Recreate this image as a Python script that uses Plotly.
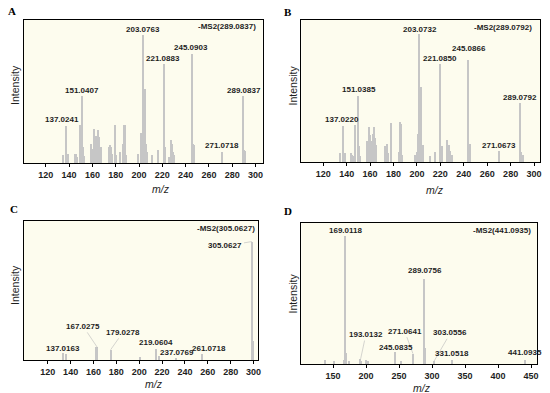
import plotly.graph_objects as go

# ---------------- data ----------------
# Panel A  -MS2(289.0837)
a_mz = [135, 137, 138, 139, 145, 146, 147, 149, 150, 151, 152, 153, 159, 160, 161, 162, 163, 164, 165,
        166, 167, 174, 175, 176, 177, 179, 180, 184, 186, 187, 188, 189, 199, 202, 203, 204, 205, 206,
        207, 211, 216, 221, 222, 226, 227, 228, 229, 230, 245, 246, 247, 271, 289, 290, 291]
a_int = [0.054, 0.257, 0.065, 0.06, 0.065, 0.06, 0.04, 0.264, 0.11, 0.467, 0.11, 0.05, 0.13, 0.1, 0.24,
         0.13, 0.19, 0.11, 0.234, 0.18, 0.11, 0.11, 0.124, 0.11, 0.065, 0.264, 0.054, 0.077, 0.135, 0.269,
         0.269, 0.054, 0.06, 0.21, 0.895, 0.16, 0.521, 0.135, 0.077, 0.054, 0.09, 0.689, 0.11, 0.04, 0.16,
         0.135, 0.077, 0.054, 0.762, 0.13, 0.124, 0.077, 0.467, 0.093, 0.084]
a_lab = ["137.0241", "151.0407", "203.0763", "221.0883", "245.0903", "289.0837", "271.0718"]
a_lab_x = [133.9, 150.7, 203.6, 220.9, 244.8, 290.0, 271.0]
a_lab_y = [0.304, 0.509, 0.935, 0.731, 0.806, 0.509, 0.119]

# Panel B  -MS2(289.0792)
b_mz = [135, 137, 138, 139, 144, 145, 147, 147.5, 150.3, 151.3, 152, 157.5, 159.5, 160.5, 161.5, 162.5,
        163.5, 164.5, 165.5, 173.5, 174.5, 175.5, 178, 185, 186, 187, 188, 198.5, 200.5, 201.2, 202,
        204.2, 205.2, 211.5, 216, 220.2, 221.4, 225.8, 227.5, 229, 230, 244.2, 245.8, 270.3, 288.2,
        289.5, 290.5]
b_int = [0.063, 0.255, 0.063, 0.06, 0.063, 0.05, 0.04, 0.258, 0.466, 0.11, 0.04, 0.145, 0.25, 0.19, 0.15,
         0.2, 0.245, 0.17, 0.12, 0.11, 0.13, 0.06, 0.274, 0.07, 0.279, 0.27, 0.05, 0.05, 0.07, 0.2, 0.9,
         0.527, 0.12, 0.04, 0.07, 0.69, 0.11, 0.157, 0.12, 0.08, 0.05, 0.72, 0.129, 0.075, 0.417, 0.07,
         0.05]
b_lab = ["137.0220", "151.0385", "203.0732", "221.0850", "245.0866", "289.0792", "271.0673"]
b_lab_x = [135.6, 150.6, 202.2, 220.1, 244.7, 287.8, 270.2]
b_lab_y = [0.302, 0.508, 0.934, 0.731, 0.801, 0.457, 0.115]

# Panel C  -MS2(305.0627)
c_mz = [133.5, 135.5, 161.8, 163.4, 175, 201, 215, 217, 232, 255, 298.5, 299.2]
c_int = [0.05, 0.043, 0.09, 0.09, 0.074, 0.02, 0.079, 0.03, 0.012, 0.045, 0.852, 0.139]
c_lab = ["137.0163", "167.0275", "179.0278", "219.0604", "237.0769", "261.0718", "305.0627"]
c_lab_x = [133.6, 151.0, 185.7, 214.6, 233.4, 260.9, 275.4]
c_lab_y = [0.086, 0.242, 0.199, 0.127, 0.055, 0.086, 0.821]
c_tip_x = [None, 163.4, 175, None, None, None, 298.5]
c_tip_y = [None, 0.09, 0.074, None, None, None, 0.852]

# Panel D  -MS2(441.0935)
d_mz = [138, 152, 167.5, 169, 170, 175, 191.8, 193, 201, 203, 245, 253, 271, 272, 289, 290, 303, 331, 441]
d_int = [0.026, 0.019, 0.03, 0.905, 0.078, 0.019, 0.036, 0.019, 0.03, 0.019, 0.083, 0.019, 0.074, 0.055,
         0.606, 0.114, 0.02, 0.03, 0.03]
d_lab = ["169.0118", "289.0756", "193.0132", "271.0641", "245.0835", "303.0556", "331.0518", "441.0935"]
d_lab_x = [169.6, 289.2, 199.7, 258.5, 245.0, 327.9, 330.4, 441.0]
d_lab_y = [0.950, 0.660, 0.209, 0.233, 0.114, 0.221, 0.078, 0.083]
d_tip_x = [None, None, 191.8, 271, None, 303, None, None]
d_tip_y = [None, None, 0.036, 0.074, None, 0.02, None, None]

titles = ["-MS2(289.0837)", "-MS2(289.0792)", "-MS2(305.0627)", "-MS2(441.0935)"]
letters = ["A", "B", "C", "D"]
ticks_abc = [120, 140, 160, 180, 200, 220, 240, 260, 280, 300]
ticks_d = [150, 200, 250, 300, 350, 400, 450]

# ---------------- layout / style ----------------
W, H = 550, 393
def px2x(p): return p / W
def px2y(p): return 1 - p / H

panels = [
    dict(mz=a_mz, it=a_int, lab=a_lab, lx=a_lab_x, ly=a_lab_y, tx=None, ty=None,
         xpx=(24, 264), ypx=(20, 163), xr=[101.2, 306.0], ticks=ticks_abc, barw=1.0,
         ttl=(302, 0.953), letter=(12, 11), ytitle=(15, 85), xtitle=(162, 189)),
    dict(mz=b_mz, it=b_int, lab=b_lab, lx=b_lab_x, ly=b_lab_y, tx=None, ty=None,
         xpx=(303, 543), ypx=(20, 162), xr=[101.3, 305.1], ticks=ticks_abc, barw=1.0,
         ttl=(300, 0.948), letter=(290, 12), ytitle=(295, 85), xtitle=(437, 190)),
    dict(mz=c_mz, it=c_int, lab=c_lab, lx=c_lab_x, ly=c_lab_y, tx=c_tip_x, ty=c_tip_y,
         xpx=(24, 259), ypx=(221, 360), xr=[99.1, 303.5], ticks=ticks_abc, barw=1.0,
         ttl=(302.9, 0.947), letter=(14, 209), ytitle=(15, 285), xtitle=(155, 384)),
    dict(mz=d_mz, it=d_int, lab=d_lab, lx=d_lab_x, ly=d_lab_y, tx=d_tip_x, ty=d_tip_y,
         xpx=(303, 540), ypx=(223, 364), xr=[102.0, 459.0], ticks=ticks_d, barw=1.6,
         ttl=(453.5, 0.948), letter=(290, 211), ytitle=(295, 293), xtitle=(424, 388)),
]

BAR = "#c6c6c6"
BG = "#fdfcee"
TXT = "#1e1e1e"
FONT = "Liberation Sans"

fig = go.Figure()
layout = dict(width=W, height=H, margin=dict(l=0, r=0, t=0, b=0),
              paper_bgcolor="white", showlegend=False, bargap=0)
annotations = []

for i, p in enumerate(panels):
    n = "" if i == 0 else str(i + 1)
    xa, ya = "x" + n, "y" + n
    fig.add_trace(go.Bar(x=p["mz"], y=p["it"], width=p["barw"], marker=dict(color=BAR, line=dict(width=0)),
                         xaxis=xa, yaxis=ya, hoverinfo="x+y"))
    layout["xaxis" + n] = dict(domain=[px2x(p["xpx"][0]), px2x(p["xpx"][1])], range=p["xr"], anchor=ya,
                               showgrid=False, zeroline=False, showline=True, linecolor="black",
                               linewidth=1.3, mirror=True, ticks="outside", ticklen=3, tickwidth=1,
                               tickcolor="black", tickvals=p["ticks"],
                               tickfont=dict(family=FONT, size=9, color=TXT, weight="bold"))
    layout["yaxis" + n] = dict(domain=[px2y(p["ypx"][1]), px2y(p["ypx"][0])], range=[0, 1], anchor=xa,
                               showgrid=False, zeroline=False, showline=True, linecolor="black",
                               linewidth=1.3, mirror=True, showticklabels=False, ticks="")
    layout["plot_bgcolor"] = BG
    # peak labels
    for k, t in enumerate(p["lab"]):
        tip = p["tx"][k] if p["tx"] is not None else None
        if tip is None:
            annotations.append(dict(x=p["lx"][k], y=p["ly"][k], xref=xa, yref=ya, text=t, showarrow=False,
                                    xanchor="center", yanchor="middle",
                                    font=dict(family=FONT, size=8, color=TXT, weight="bold")))
        else:
            annotations.append(dict(x=tip, y=p["ty"][k], xref=xa, yref=ya, ax=p["lx"][k], ay=p["ly"][k],
                                    axref=xa, ayref=ya, text=t, showarrow=True, arrowhead=0,
                                    arrowwidth=0.6, arrowcolor="#b8b8b8",
                                    font=dict(family=FONT, size=8, color=TXT, weight="bold")))
    # MS2 title
    annotations.append(dict(x=p["ttl"][0], y=p["ttl"][1], xref=xa, yref=ya, text=titles[i], showarrow=False,
                            xanchor="right", yanchor="middle",
                            font=dict(family=FONT, size=8, color=TXT, weight="bold")))
    # panel letter
    annotations.append(dict(x=px2x(p["letter"][0]), y=px2y(p["letter"][1]), xref="paper", yref="paper",
                            text=letters[i], showarrow=False, xanchor="center", yanchor="middle",
                            font=dict(family="Liberation Serif", size=11, color="black", weight="bold")))
    # axis titles
    annotations.append(dict(x=px2x(p["ytitle"][0]), y=px2y(p["ytitle"][1]), xref="paper", yref="paper",
                            text="Intensity", textangle=-90, showarrow=False, xanchor="center",
                            yanchor="middle", font=dict(family=FONT, size=10.5, color=TXT)))
    annotations.append(dict(x=px2x(p["xtitle"][0]), y=px2y(p["xtitle"][1]), xref="paper", yref="paper",
                            text="<i>m/z</i>", showarrow=False, xanchor="center", yanchor="middle",
                            font=dict(family=FONT, size=10.5, color=TXT)))

layout["annotations"] = annotations
fig.update_layout(**layout)
fig.write_html("out.html", config={"displayModeBar": False},
               post_script="document.body.style.margin='0';document.body.style.overflow='hidden';")
